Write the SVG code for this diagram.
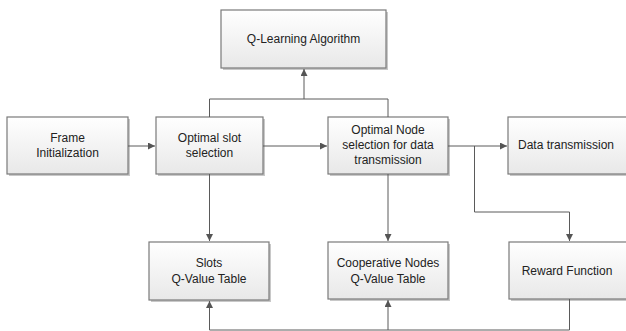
<svg xmlns="http://www.w3.org/2000/svg" width="626" height="331" viewBox="0 0 626 331">
<defs>
<linearGradient id="g" x1="0" y1="0" x2="0" y2="1">
<stop offset="0" stop-color="#ffffff"/>
<stop offset="1" stop-color="#e8e8e8"/>
</linearGradient>
<marker id="a" viewBox="0 0 10 10" refX="10" refY="5" markerWidth="7" markerHeight="7" markerUnits="userSpaceOnUse" orient="auto">
<path d="M0,0 L10,5 L0,10 z" fill="#555"/>
</marker>
<style>
.box{fill:url(#g);stroke:#7a7a7a;stroke-width:1.2}
.sh{fill:#c8c8c8}
.t{font-family:"Liberation Sans",Arial,sans-serif;font-size:12px;fill:#222;text-anchor:middle}
.c{fill:none;stroke:#5a5a5a;stroke-width:1}
</style>
</defs>
<rect width="626" height="331" fill="#fff"/>
<g id="qlearning">
<rect class="sh" x="223" y="12" width="165" height="58"/>
<rect class="box" x="221" y="10" width="165" height="58"/>
<text class="t" x="303.5" y="43">Q-Learning Algorithm</text>
</g>
<g id="frame">
<rect class="sh" x="9" y="119" width="121" height="57"/>
<rect class="box" x="7" y="117" width="121" height="57"/>
<text class="t" x="67.5" y="142">Frame</text>
<text class="t" x="67.5" y="157">Initialization</text>
</g>
<g id="slot">
<rect class="sh" x="158" y="119" width="107" height="57"/>
<rect class="box" x="156" y="117" width="107" height="57"/>
<text class="t" x="209.5" y="142">Optimal slot</text>
<text class="t" x="209.5" y="157">selection</text>
</g>
<g id="node">
<rect class="sh" x="330" y="119" width="120" height="57"/>
<rect class="box" x="328" y="117" width="120" height="57"/>
<text class="t" x="388" y="134">Optimal Node</text>
<text class="t" x="388" y="149">selection for data</text>
<text class="t" x="388" y="164">transmission</text>
</g>
<g id="data">
<rect class="sh" x="510" y="119" width="122" height="57"/>
<rect class="box" x="508" y="117" width="122" height="57"/>
<text class="t" x="566" y="149">Data transmission</text>
</g>
<g id="slots">
<rect class="sh" x="151" y="244" width="120" height="58"/>
<rect class="box" x="149" y="242" width="120" height="58"/>
<text class="t" x="209" y="267">Slots</text>
<text class="t" x="209" y="283">Q-Value Table</text>
</g>
<g id="coop">
<rect class="sh" x="330" y="244" width="120" height="57"/>
<rect class="box" x="328" y="242" width="120" height="57"/>
<text class="t" x="388" y="267">Cooperative Nodes</text>
<text class="t" x="388" y="283">Q-Value Table</text>
</g>
<g id="reward">
<rect class="sh" x="511" y="244" width="122" height="57"/>
<rect class="box" x="509" y="242" width="122" height="57"/>
<text class="t" x="567" y="275">Reward Function</text>
</g>
<g id="connectors">
<line class="c" x1="128" y1="146" x2="155" y2="146" marker-end="url(#a)"/>
<line class="c" x1="263" y1="146" x2="327" y2="146" marker-end="url(#a)"/>
<polyline class="c" points="209.5,117 209.5,99 388,99 388,117"/>
<line class="c" x1="304" y1="99" x2="304" y2="69" marker-end="url(#a)"/>
<line class="c" x1="448" y1="146" x2="507" y2="146" marker-end="url(#a)"/>
<polyline class="c" points="474.5,146 474.5,212 569.5,212 569.5,241" marker-end="url(#a)"/>
<line class="c" x1="209.5" y1="174" x2="209.5" y2="241" marker-end="url(#a)"/>
<line class="c" x1="388" y1="174" x2="388" y2="241" marker-end="url(#a)"/>
<polyline class="c" points="569.5,299 569.5,330 209.5,330 209.5,301" marker-end="url(#a)"/>
<line class="c" x1="388" y1="330" x2="388" y2="300" marker-end="url(#a)"/>
</g>
</svg>
